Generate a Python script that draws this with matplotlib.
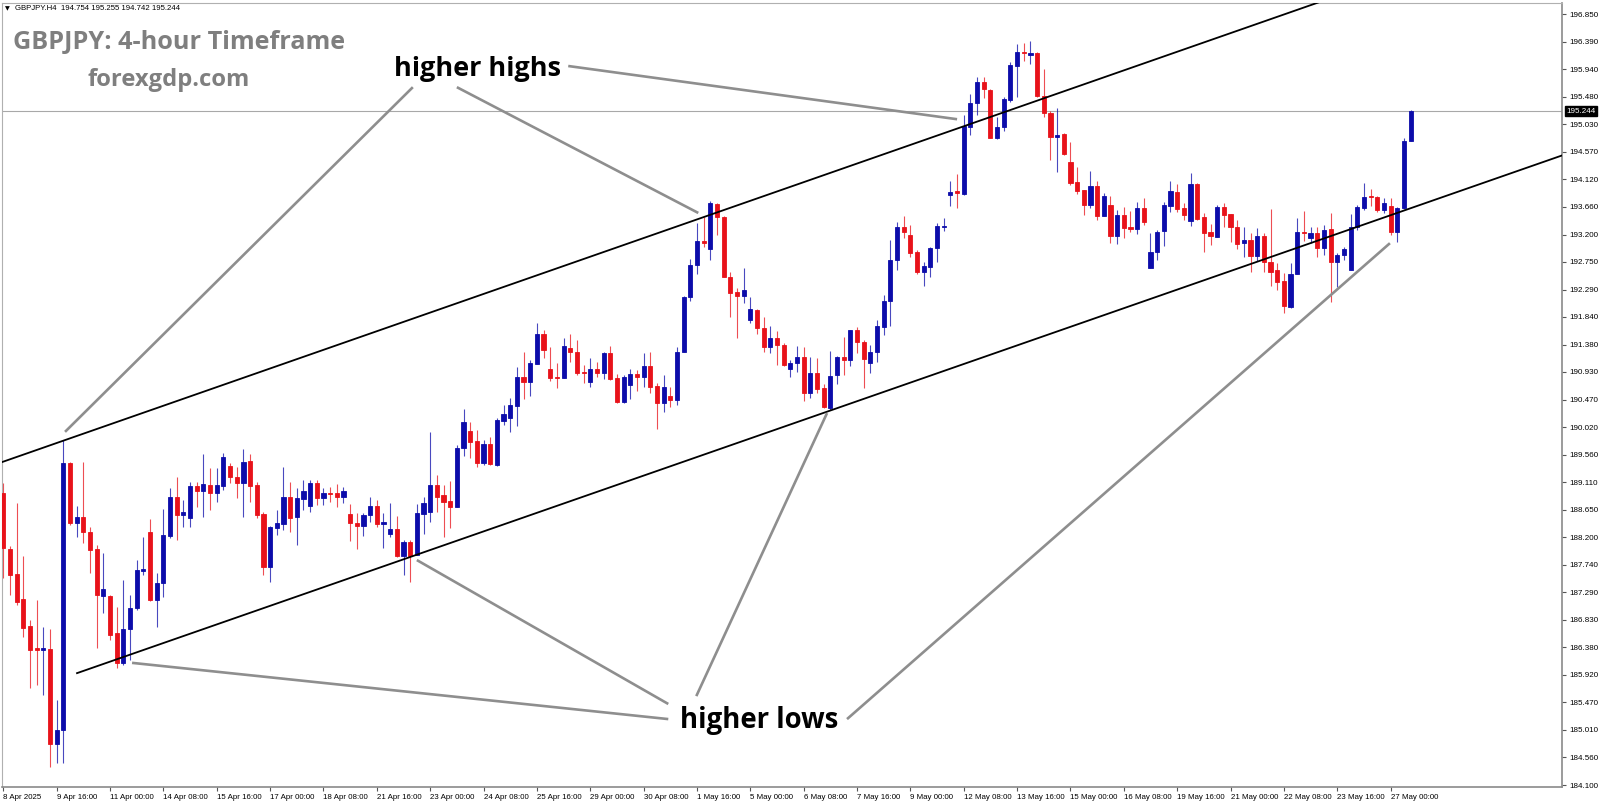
import matplotlib
matplotlib.use('Agg')
import matplotlib.pyplot as plt

# GBPJPY H4 candles (8 Apr 2025 08:00 .. 27 May 2025 12:00)
opens = [188.93, 188.00, 187.59, 187.18, 186.73, 186.36, 186.34, 186.35, 184.78, 185.01,
         189.42, 188.43, 188.53, 188.28, 188.00, 187.22, 187.22, 186.61, 186.12, 186.68,
         187.03, 187.64, 188.28, 187.16, 187.44, 188.22, 188.86, 188.57, 188.52, 189.04,
         188.96, 189.06, 188.93, 189.04, 189.38, 189.19, 189.09, 189.46, 189.06, 188.58,
         187.70, 188.35, 188.42, 188.86, 188.53, 188.83, 188.71, 189.09, 188.85, 188.93,
         188.93, 188.86, 188.58, 188.43, 188.38, 188.57, 188.71, 188.42, 188.25, 188.33,
         187.89, 188.12, 187.90, 188.58, 188.61, 189.06, 188.90, 188.80, 188.70, 189.67,
         189.95, 189.79, 189.42, 189.74, 189.39, 190.12, 190.17, 190.37, 190.85, 190.76,
         191.06, 191.56, 190.98, 190.85, 190.83, 191.33, 191.26, 190.93, 190.76, 190.98,
         190.91, 191.24, 190.83, 190.43, 190.71, 190.90, 190.85, 191.03, 190.70, 190.42,
         190.53, 190.47, 191.26, 192.17, 192.70, 193.10, 192.96, 193.71, 193.49, 192.50,
         192.25, 192.19, 191.79, 191.95, 191.66, 191.34, 191.49, 191.37, 190.98, 191.08,
         191.18, 190.58, 190.91, 190.66, 190.33, 190.88, 191.18, 191.13, 191.62, 191.43,
         191.08, 191.26, 191.67, 192.10, 192.78, 193.33, 193.19, 192.91, 192.58, 192.67,
         192.98, 193.32, 193.86, 193.92, 193.87, 194.98, 195.38, 195.72, 195.59, 194.80,
         194.98, 195.43, 195.99, 196.22, 196.17, 196.20, 195.49, 195.21, 194.82, 194.87,
         194.40, 194.07, 193.94, 193.69, 194.01, 193.51, 193.69, 193.18, 193.53, 193.33,
         193.29, 193.64, 192.65, 192.91, 193.26, 193.67, 193.91, 193.64, 193.43, 194.04,
         193.49, 193.25, 193.16, 193.66, 193.54, 193.33, 193.06, 193.11, 192.85, 193.18,
         192.75, 192.62, 192.43, 192.00, 192.55, 193.25, 193.14, 193.23, 192.98, 193.29,
         192.75, 192.87, 192.62, 193.33, 193.64, 193.84, 193.82, 193.61, 193.67, 193.25,
         193.64, 194.754]
highs = [189.09, 188.05, 188.76, 187.89, 186.83, 187.16, 186.71, 186.68, 185.51, 189.80,
         189.44, 188.71, 189.44, 188.37, 188.07, 187.94, 187.24, 187.04, 187.49, 187.24,
         187.82, 188.20, 188.50, 187.61, 188.67, 189.01, 189.19, 188.81, 189.11, 189.11,
         189.57, 189.34, 189.34, 189.59, 189.42, 189.36, 189.66, 189.57, 189.11, 188.61,
         188.38, 188.65, 189.36, 189.11, 189.01, 189.14, 189.14, 189.14, 189.01, 189.03,
         189.08, 189.03, 188.75, 188.60, 188.60, 188.86, 188.81, 188.60, 188.76, 188.55,
         188.15, 188.15, 188.75, 188.86, 189.94, 189.23, 189.06, 189.13, 189.72, 190.32,
         190.10, 189.97, 189.80, 189.85, 190.17, 190.38, 190.50, 191.01, 191.26, 191.13,
         191.74, 191.62, 191.34, 191.08, 191.49, 191.56, 191.46, 191.05, 191.16, 191.10,
         191.26, 191.36, 190.90, 190.88, 190.98, 190.96, 191.24, 191.26, 190.75, 190.88,
         190.68, 191.34, 192.19, 192.80, 193.39, 193.49, 193.76, 193.72, 193.51, 192.58,
         192.32, 192.65, 192.17, 191.97, 191.84, 191.69, 191.61, 191.41, 191.13, 191.36,
         191.34, 191.18, 191.16, 190.73, 191.28, 191.19, 191.51, 191.62, 191.67, 191.46,
         191.37, 191.79, 192.20, 193.11, 193.41, 193.51, 193.36, 192.95, 192.75, 193.00,
         193.39, 193.48, 194.09, 194.20, 195.18, 195.53, 195.81, 195.81, 195.61, 195.15,
         195.48, 196.06, 196.35, 196.37, 196.40, 196.22, 195.94, 195.25, 195.30, 194.88,
         194.73, 194.32, 193.94, 194.25, 194.09, 193.89, 193.84, 193.61, 193.66, 193.59,
         193.74, 193.81, 193.23, 193.28, 193.74, 194.09, 194.04, 193.72, 194.22, 194.06,
         193.56, 193.38, 193.69, 193.72, 193.54, 193.44, 193.33, 193.23, 193.31, 193.23,
         193.62, 192.73, 192.57, 192.73, 193.48, 193.59, 193.33, 193.33, 193.36, 193.56,
         192.90, 193.00, 193.54, 193.69, 194.06, 193.96, 193.84, 193.81, 193.81, 193.66,
         194.80, 195.255]
lows = [187.52, 187.24, 187.08, 186.55, 185.70, 185.75, 185.59, 184.40, 184.46, 184.46,
        188.40, 188.20, 188.10, 187.61, 186.37, 186.94, 186.50, 186.03, 186.08, 186.17,
        186.99, 187.57, 187.14, 186.71, 187.21, 188.19, 188.15, 188.37, 188.37, 188.70,
        188.53, 188.65, 188.78, 188.98, 189.09, 188.85, 188.53, 188.78, 188.52, 187.57,
        187.46, 188.23, 188.32, 188.28, 188.07, 188.65, 188.61, 188.73, 188.73, 188.78,
        188.70, 188.76, 188.14, 188.00, 188.22, 188.45, 188.37, 188.02, 188.20, 187.87,
        187.57, 187.46, 187.90, 188.25, 188.45, 188.61, 188.20, 188.35, 188.70, 189.54,
        189.51, 189.36, 189.39, 189.39, 189.38, 190.05, 189.94, 190.04, 190.48, 190.53,
        191.06, 191.16, 190.78, 190.66, 190.83, 191.10, 190.88, 190.75, 190.68, 190.85,
        190.81, 190.80, 190.42, 190.42, 190.48, 190.62, 190.68, 190.58, 189.99, 190.27,
        190.35, 190.38, 191.26, 192.10, 192.55, 193.00, 192.78, 193.19, 192.50, 191.84,
        191.49, 192.07, 191.74, 191.56, 191.26, 191.24, 191.05, 191.03, 190.85, 190.93,
        190.45, 190.50, 190.58, 190.33, 190.30, 190.73, 190.88, 191.03, 191.24, 190.66,
        190.91, 191.10, 191.54, 191.69, 192.62, 193.14, 192.83, 192.55, 192.35, 192.50,
        192.75, 193.26, 193.67, 193.64, 193.86, 194.85, 195.18, 195.46, 194.80, 194.79,
        194.92, 195.39, 195.48, 196.07, 196.02, 195.48, 195.15, 194.44, 194.24, 194.52,
        194.02, 193.87, 193.53, 193.64, 193.44, 193.51, 193.06, 193.05, 193.14, 193.25,
        193.21, 193.36, 192.65, 192.78, 193.01, 193.58, 193.58, 193.44, 193.34, 193.44,
        192.91, 193.03, 193.16, 193.33, 193.08, 192.96, 192.83, 192.58, 192.77, 192.58,
        192.35, 192.29, 191.90, 191.99, 192.55, 193.10, 193.06, 192.83, 192.87, 192.09,
        192.34, 192.78, 192.62, 193.28, 193.61, 193.67, 193.58, 193.56, 193.19, 193.08,
        193.62, 194.742]
closes = [188.02, 187.57, 187.13, 186.70, 186.33, 186.34, 186.36, 184.78, 185.01, 189.42,
          188.43, 188.53, 188.28, 187.99, 187.24, 187.34, 186.58, 186.12, 186.68, 187.03,
          187.66, 187.67, 187.16, 187.44, 188.23, 188.86, 188.57, 188.61, 189.04, 188.96,
          189.08, 188.93, 189.06, 189.52, 189.19, 189.09, 189.44, 189.04, 188.57, 187.70,
          188.37, 188.43, 188.86, 188.52, 188.85, 188.96, 189.09, 188.85, 188.93, 188.91,
          188.86, 188.96, 188.43, 188.38, 188.57, 188.71, 188.42, 188.45, 188.33, 187.89,
          188.12, 187.89, 188.60, 188.76, 189.06, 188.86, 188.78, 188.70, 189.67, 190.10,
          189.77, 189.42, 189.74, 189.41, 190.14, 190.23, 190.38, 190.85, 190.76, 191.08,
          191.56, 191.29, 190.83, 190.83, 191.36, 191.26, 190.91, 190.91, 190.98, 190.91,
          191.24, 190.81, 190.43, 190.85, 190.90, 190.85, 191.03, 190.68, 190.42, 190.68,
          190.47, 191.26, 192.17, 192.70, 193.10, 193.06, 193.72, 193.49, 192.50, 192.24,
          192.19, 192.29, 191.97, 191.66, 191.34, 191.49, 191.37, 191.05, 191.08, 191.18,
          190.58, 190.91, 190.65, 190.35, 190.86, 191.18, 191.13, 191.62, 191.43, 191.15,
          191.26, 191.69, 192.10, 192.78, 193.33, 193.25, 192.90, 192.58, 192.68, 192.98,
          193.34, 193.34, 193.91, 193.89, 195.00, 195.38, 195.72, 195.61, 194.80, 194.98,
          195.44, 196.01, 196.22, 196.20, 196.20, 195.49, 195.21, 194.82, 194.85, 194.53,
          194.06, 193.92, 193.69, 194.01, 193.51, 193.84, 193.18, 193.53, 193.31, 193.29,
          193.64, 193.41, 192.91, 193.25, 193.69, 193.92, 193.62, 193.53, 194.04, 193.46,
          193.23, 193.18, 193.66, 193.53, 193.33, 193.05, 193.11, 192.85, 193.18, 192.75,
          192.58, 192.42, 192.02, 192.55, 193.25, 193.23, 193.23, 192.98, 193.28, 192.75,
          192.87, 192.96, 193.33, 193.66, 193.82, 193.82, 193.61, 193.72, 193.25, 193.64,
          194.75, 195.244]

date_labels = ['8 Apr 2025', '9 Apr 16:00', '11 Apr 00:00', '14 Apr 08:00', '15 Apr 16:00',
               '17 Apr 00:00', '18 Apr 08:00', '21 Apr 16:00', '23 Apr 00:00', '24 Apr 08:00',
               '25 Apr 16:00', '29 Apr 00:00', '30 Apr 08:00', '1 May 16:00', '5 May 00:00',
               '6 May 08:00', '7 May 16:00', '9 May 00:00', '12 May 08:00', '13 May 16:00',
               '15 May 00:00', '16 May 08:00', '19 May 16:00', '21 May 00:00', '22 May 08:00',
               '23 May 16:00', '27 May 00:00']
date_ticks = [8 * k for k in range(len(date_labels))]  # one label every 8 bars

price_labels = ['196.850', '196.390', '195.940', '195.480', '195.030', '194.570', '194.120',
                '193.660', '193.200', '192.750', '192.290', '191.840', '191.380', '190.930',
                '190.470', '190.020', '189.560', '189.110', '188.650', '188.200', '187.740',
                '187.290', '186.830', '186.380', '185.920', '185.470', '185.010', '184.560',
                '184.100']
last_price = 195.244
header = 'GBPJPY.H4  194.754 195.255 194.742 195.244'

# channel lines (bar index, price)
upper_channel = ([-0.2, 200.0], [189.44, 197.15])
lower_channel = ([11.05, 239.4], [185.95, 194.73])

# gray pointer lines (bar index pair, price pair)
pointer_lines = [
    ((61.4, 9.25), (195.64, 189.94)),
    ((68.0, 104.2), (195.64, 193.56)),
    ((84.7, 143.0), (195.99, 195.11)),
    ((99.7, 19.3), (185.19, 186.12)),
    ((99.7, 62.0), (185.44, 187.82)),
    ((103.9, 123.5), (185.57, 190.25)),
    ((126.5, 207.9), (185.19, 193.06)),
]
hh_pos = (58.5, 195.94)
hl_pos = (101.4, 185.17)

BULL = '#0c0caa'
BEAR = '#e8121a'

fig = plt.figure(figsize=(16, 8.05), dpi=100)
ax = fig.add_axes([2 / 1600, 18 / 805, 1560 / 1600, 784 / 805])

for i in range(len(opens)):
    o, h, l, c = opens[i], highs[i], lows[i], closes[i]
    col = BULL if c >= o else BEAR
    ax.vlines(i, l, h, color=col, lw=0.8, alpha=0.75, zorder=2)
    ax.bar(i, c - o, bottom=o, width=0.62, color=col, edgecolor=col, linewidth=0.6, zorder=3)

ax.axhline(last_price, color='#a8a8a8', lw=0.8, zorder=1)

ax.plot(*upper_channel, color='black', lw=1.3, zorder=4)
ax.plot(*lower_channel, color='black', lw=1.3, zorder=4)
for xs, ys in pointer_lines:
    ax.plot(xs, ys, color='#8e8e8e', lw=1.9, solid_capstyle='butt', zorder=5)

ax.text(hh_pos[0], hh_pos[1], 'higher highs', fontsize=19.5, fontweight='bold',
        family='Open Sans', ha='left', va='center', color='black', zorder=6)
ax.text(hl_pos[0], hl_pos[1], 'higher lows', fontsize=19.8, fontweight='bold',
        family='Open Sans', ha='left', va='center', color='black', zorder=6)

ax.set_xlim(-0.2, 233.7)
ax.set_ylim(184.067, 197.032)

ax.set_xticks(date_ticks)
ax.set_xticklabels(date_labels, fontfamily='Liberation Sans')
for lab in ax.get_xticklabels():
    lab.set_horizontalalignment('left')
ax.set_yticks([float(p) for p in price_labels])
ax.set_yticklabels(price_labels, fontfamily='Liberation Sans')
ax.yaxis.tick_right()
ax.tick_params(axis='y', labelsize=5.8, length=3, width=0.8, color='#555555', pad=2)
ax.tick_params(axis='x', labelsize=5.7, length=3, width=0.8, color='#555555', pad=2)

for side in ['left', 'top']:
    ax.spines[side].set_color('#b0b0b0')
    ax.spines[side].set_linewidth(0.8)
for side in ['right', 'bottom']:
    ax.spines[side].set_color('#8a8a8a')
    ax.spines[side].set_linewidth(1.2)

ax.text(1.003, last_price, '195.244', transform=ax.get_yaxis_transform(), fontsize=5.8,
        family='Liberation Sans', color='white', va='center', ha='left',
        bbox=dict(boxstyle='square,pad=0.15', facecolor='black', edgecolor='black'))

fig.text(5 / 1600, 1 - 9 / 805, '\u25bc', fontsize=4.5, va='center', ha='left')
fig.text(15 / 1600, 1 - 9 / 805, header, fontsize=5.6, family='Liberation Sans',
         va='center', ha='left')
fig.text(13 / 1600, 1 - 42 / 805, 'GBPJPY: 4-hour Timeframe', fontsize=18.2,
         fontweight='bold', family='Open Sans', color='#7f7f7f', va='center', ha='left')
fig.text(88 / 1600, 1 - 80 / 805, 'forexgdp.com', fontsize=17.1, fontweight='bold',
         family='Open Sans', color='#7f7f7f', va='center', ha='left')

fig.savefig('out.png', dpi=100)
